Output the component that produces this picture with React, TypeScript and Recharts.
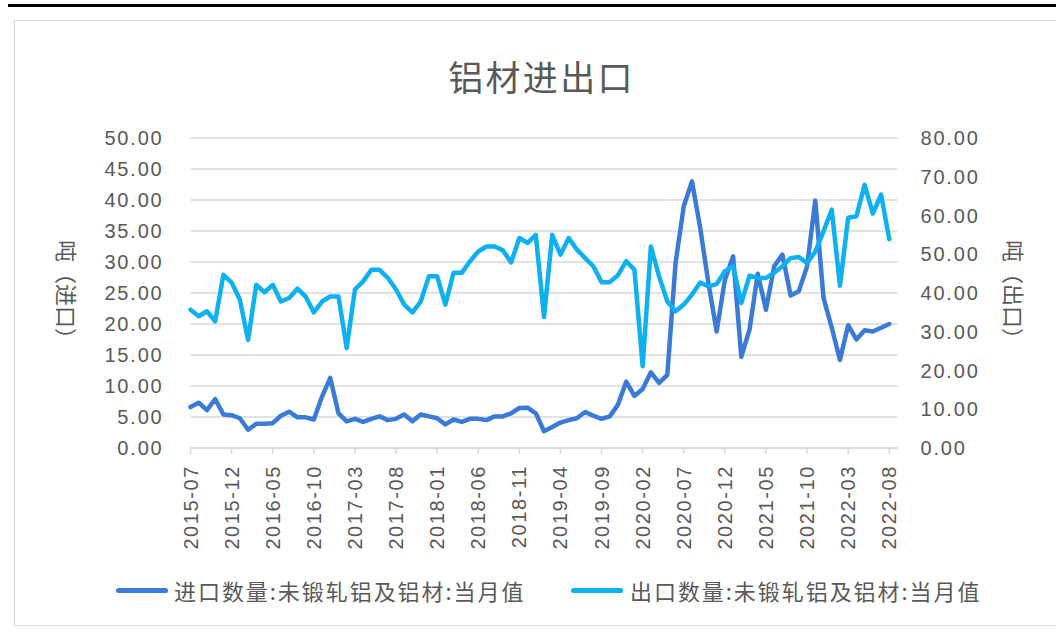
import React from 'react';
import { LineChart, Line, XAxis, YAxis, CartesianGrid } from 'recharts';

const months: string[] = [];
for (let y = 2015, m = 7; months.length < 87; ) {
  months.push(`${y}-${String(m).padStart(2, '0')}`);
  m++;
  if (m > 12) { m = 1; y++; }
}

const importValues: (number | null)[] = [
  6.6, 7.3, 6.1, 7.9, 5.4, 5.3, 4.8, 2.95, 3.9, 3.9,
  4.0, 5.2, 5.85, 4.95, 4.95, 4.6, 8.3, 11.3, 5.6, 4.3,
  4.7, 4.2, 4.7, 5.1, 4.5, 4.7, 5.4, 4.3, 5.4, 5.1,
  4.8, 3.8, 4.6, 4.2, 4.7, 4.7, 4.5, 5.1, 5.1, 5.6,
  6.45, 6.5, 5.6, 2.7, 3.4, 4.1, 4.5, 4.8, 5.8, 5.2,
  4.7, 5.1, 7.0, 10.7, 8.4, 9.5, 12.2, 10.5, 11.8, 29.8,
  39.0, 43.0, 35.5, 26.6, 18.8, 27.1, 30.9, 14.7, 19.1, 28.1,
  22.3, 29.3, 31.2, 24.6, 25.3, 29.3, 39.9, 24.2, 19.4, 14.2,
  19.8, 17.5, 19.0, 18.8, 19.4, 20.0, null,
];

const exportValues: (number | null)[] = [
  35.7, 34.0, 35.3, 32.7, 44.7, 42.7, 38.3, 27.9, 42.1, 40.2,
  42.1, 37.8, 38.7, 41.1, 39.1, 35.0, 37.8, 39.1, 39.1, 25.8,
  40.9, 43.0, 46.0, 46.0, 43.9, 40.9, 37.0, 35.0, 37.8, 44.3,
  44.3, 37.0, 45.2, 45.2, 48.2, 50.7, 52.0, 52.0, 51.0, 47.9,
  54.2, 52.9, 55.0, 33.8, 55.0, 49.9, 54.2, 51.2, 49.0, 46.9,
  42.8, 42.8, 44.6, 48.2, 46.0, 21.1, 52.0, 44.3, 37.8, 35.3,
  37.0, 39.6, 42.7, 41.7, 42.3, 45.6, 47.0, 37.4, 44.5, 43.9,
  43.9, 45.2, 46.9, 49.0, 49.3, 47.7, 50.7, 55.9, 61.5, 41.9,
  59.4, 59.8, 67.9, 60.5, 65.4, 53.9, null,
];

const leftTicks = [0, 5, 10, 15, 20, 25, 30, 35, 40, 45, 50];
const rightTicks = [0, 10, 20, 30, 40, 50, 60, 70, 80];

const importName = '进口数量:未锻轧铝及铝材:当月值';
const exportName = '出口数量:未锻轧铝及铝材:当月值';
const title = '铝材进出口';
const leftAxisTitle = '吨（进口）';
const rightAxisTitle = '吨（出口）';

const data = months.map((m, i) => ({ month: m, imp: importValues[i], exp: exportValues[i] }));

const IMPORT_COLOR = '#3A7BD8';
const EXPORT_COLOR = '#0DB0F0';
const TEXT = '#595959';
const GRID = '#d9d9d9';
const NUM_FONT = '"Liberation Sans", Arial, sans-serif';
const CJK_FONT = '"Noto Sans CJK SC", "Noto Sans", sans-serif';

const XTick = (props: any) => {
  const { x, y, payload } = props;
  return (
    <text
      x={x}
      y={y}
      transform={`rotate(-90, ${x}, ${y})`}
      textAnchor="end"
      dominantBaseline="central"
      fill={TEXT}
      fontSize={20}
      fontFamily={NUM_FONT}
      letterSpacing={1.6}
    >
      {payload.value}
    </text>
  );
};

export default function App() {
  return (
    <div style={{ position: 'absolute', left: 0, top: 0, width: 1056, height: 639, background: '#fff', overflow: 'hidden' }}>
      <div style={{ position: 'absolute', left: 8, top: 4, width: 1048, height: 3, background: '#000' }} />
      <div style={{ position: 'absolute', left: 14, top: 20, width: 1060, height: 606, border: `1px solid ${GRID}`, boxSizing: 'border-box' }} />
      <div style={{ position: 'absolute', left: 0, width: 1083, top: 51, textAlign: 'center', fontFamily: CJK_FONT, fontSize: 35, color: TEXT, letterSpacing: 2.3, lineHeight: '50px' }}>
        {title}
      </div>
      <div style={{ position: 'absolute', left: 0, top: 0 }}>
        <LineChart width={1056} height={639} data={data} margin={{ top: 138, right: 58.5, bottom: 91, left: 90.5 }}>
          <CartesianGrid yAxisId="left" vertical={false} stroke={GRID} strokeWidth={1.5} />
          <XAxis
            dataKey="month"
            interval={4}
            tickSize={6}
            tickMargin={11}
            height={100}
            stroke={GRID}
            strokeWidth={1.5}
            tick={<XTick />}
          />
          <YAxis
            yAxisId="left"
            orientation="left"
            domain={[0, 50]}
            ticks={leftTicks}
            width={100}
            axisLine={false}
            tickLine={false}
            tickSize={0}
            tickMargin={27}
            tickFormatter={(v: number) => v.toFixed(2)}
            tick={{ fill: TEXT, fontSize: 20, fontFamily: NUM_FONT, letterSpacing: 1.8 } as any}
          />
          <YAxis
            yAxisId="right"
            orientation="right"
            domain={[0, 80]}
            ticks={rightTicks}
            width={100}
            axisLine={false}
            tickLine={false}
            tickSize={0}
            tickMargin={23}
            tickFormatter={(v: number) => v.toFixed(2)}
            tick={{ fill: TEXT, fontSize: 20, fontFamily: NUM_FONT, letterSpacing: 1.8 } as any}
          />
          <Line yAxisId="left" type="linear" dataKey="imp" name={importName} stroke={IMPORT_COLOR} strokeWidth={4.5} dot={false} strokeLinejoin="round" strokeLinecap="round" isAnimationActive={false} />
          <Line yAxisId="right" type="linear" dataKey="exp" name={exportName} stroke={EXPORT_COLOR} strokeWidth={4.5} dot={false} strokeLinejoin="round" strokeLinecap="round" isAnimationActive={false} />
        </LineChart>
      </div>
      <div style={{ position: 'absolute', left: 68, top: 295, transform: 'translate(-50%, -50%) rotate(90deg)', whiteSpace: 'nowrap', fontFamily: CJK_FONT, fontSize: 22, color: TEXT }}>
        {leftAxisTitle}
      </div>
      <div style={{ position: 'absolute', left: 1015, top: 295, transform: 'translate(-50%, -50%) rotate(90deg)', whiteSpace: 'nowrap', fontFamily: CJK_FONT, fontSize: 22, color: TEXT }}>
        {rightAxisTitle}
      </div>
      {[
        { name: importName, color: IMPORT_COLOR, lineLeft: 116, textLeft: 174 },
        { name: exportName, color: EXPORT_COLOR, lineLeft: 571, textLeft: 630 },
      ].map((it) => (
        <React.Fragment key={it.name}>
          <div style={{ position: 'absolute', left: it.lineLeft, top: 588, width: 52, height: 5, borderRadius: 3, background: it.color }} />
          <div style={{ position: 'absolute', left: it.textLeft, top: 575, lineHeight: '30px', fontFamily: CJK_FONT, fontSize: 22, color: TEXT, letterSpacing: 1.95, whiteSpace: 'nowrap' }}>
            {it.name}
          </div>
        </React.Fragment>
      ))}
    </div>
  );
}
